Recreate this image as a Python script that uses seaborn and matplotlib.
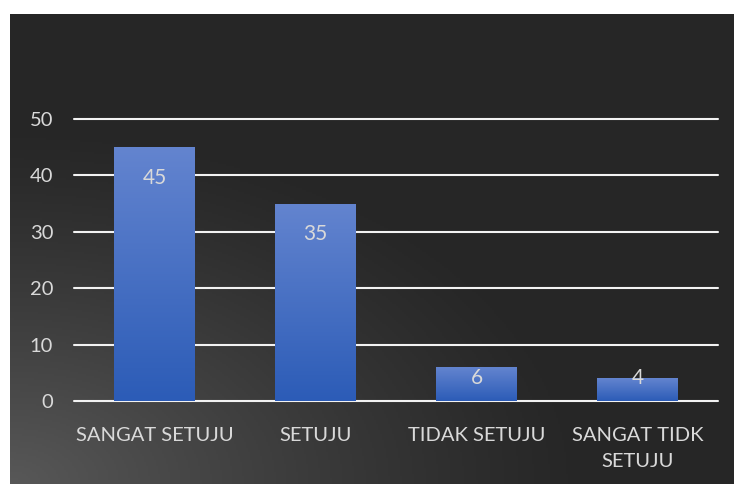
import numpy as np
import pandas as pd
import matplotlib
matplotlib.use("Agg")
import matplotlib.pyplot as plt
import matplotlib.colors as mcolors
import seaborn as sns

# Data
categories = ["SANGAT SETUJU", "SETUJU", "TIDAK SETUJU", "SANGAT TIDK\nSETUJU"]
values = [45, 35, 6, 4]
y_ticks = [0, 10, 20, 30, 40, 50]

df = pd.DataFrame({"Kategori": categories, "Jumlah": values})

sns.set_style("white")
plt.rcParams["font.family"] = ["Lato", "DejaVu Sans"]
text_color = "#D9D9D9"

fig = plt.figure(figsize=(7.34, 4.84), dpi=100)
fig.patch.set_facecolor("white")

# dark panel with a soft glow in the lower-left corner
bg = fig.add_axes([10 / 734, 0, 724 / 734, 470 / 484])
gx, gy = np.meshgrid(np.linspace(0, 724, 362), np.linspace(0, 470, 235))
d = np.sqrt((gx / 580) ** 2 + (gy / 360) ** 2)
light = 38 + 50 * np.clip(1 - d, 0, 1) ** 1.2
bg.imshow(np.dstack([light, light, light]) / 255, origin="lower", aspect="auto",
          extent=[0, 724, 0, 470])
bg.set_axis_off()

ax = fig.add_axes([74 / 734, 83 / 484, 644 / 734, 282 / 484])
ax.patch.set_alpha(0)
sns.barplot(data=df, x="Kategori", y="Jumlah", width=0.5, color="#4472C4",
            ax=ax, zorder=3)

ax.set_ylim(0, 50)
ax.set_yticks(y_ticks)
ax.set_axisbelow(True)
for t in y_ticks:
    ax.axhline(t, color="#F2F2F2", lw=1.5, zorder=1, clip_on=False)

# vertical gradient inside each bar
top_c = np.array(mcolors.to_rgb("#6384CF"))
bot_c = np.array(mcolors.to_rgb("#2C5CB7"))
xlim = ax.get_xlim()
for p in ax.patches:
    x0, y0 = p.get_x(), p.get_y()
    w, h = p.get_width(), p.get_height()
    f = np.linspace(0, 1, 100)[:, None]
    grad = (bot_c * (1 - f) + top_c * f)[:, None, :]
    im = ax.imshow(grad, origin="lower", aspect="auto",
                   extent=[x0, x0 + w, y0, y0 + h], zorder=3)
    im.set_clip_path(p)
    p.set_alpha(0)
ax.set_xlim(xlim)
ax.set_ylim(0, 50)

# value labels near the top of each bar
for i, v in enumerate(values):
    ax.text(i, max(v - 5.4, 4.1), str(v), ha="center", va="center",
            fontsize=15, color=text_color, zorder=5)

ax.set_xlabel("")
ax.set_ylabel("")
ax.tick_params(axis="x", length=0, pad=19, labelsize=14.5, labelcolor=text_color)
ax.tick_params(axis="y", length=0, pad=15, labelsize=14.5, labelcolor=text_color)
for lab in ax.get_xticklabels():
    lab.set_linespacing(1.65)
sns.despine(ax=ax, left=True, bottom=True, top=True, right=True)

fig.savefig("out.png", dpi=100)
